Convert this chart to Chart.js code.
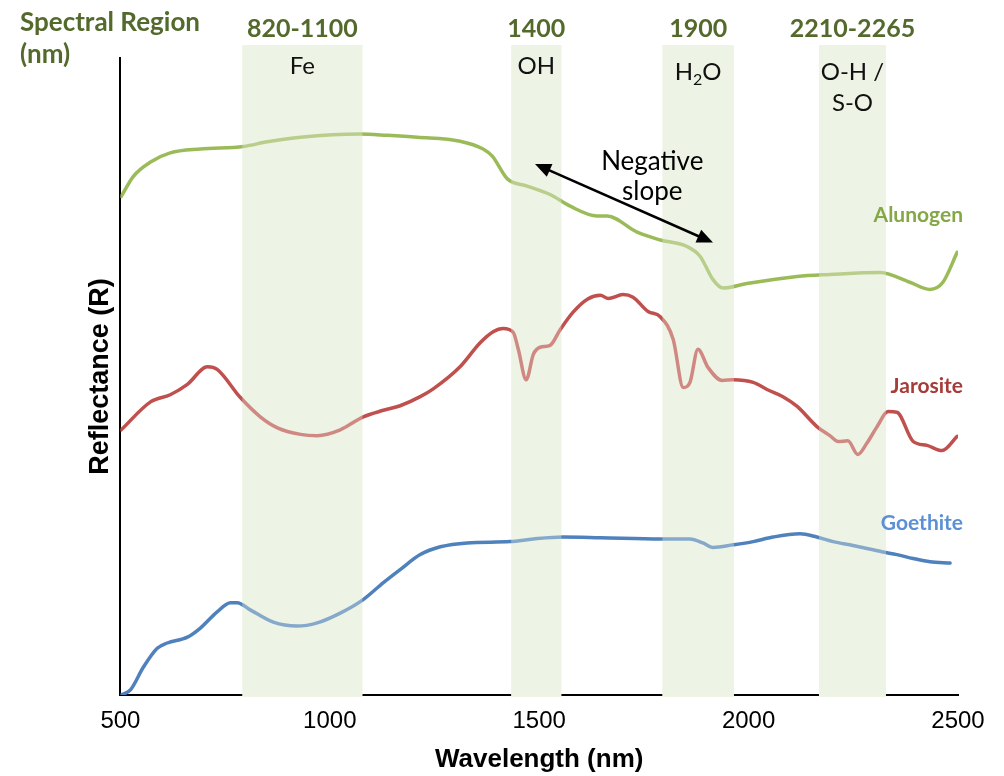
<!DOCTYPE html>
<html>
<head>
<meta charset="utf-8">
<script src="https://cdn.jsdelivr.net/npm/chart.js@4.4.1/dist/chart.umd.min.js"></script>
<style>
  html, body { margin: 0; background: #ffffff; }
  #wrap { width: 1004px; height: 776px; }
</style>
</head>
<body>
<div id="wrap"><canvas id="chart" width="1004" height="776"></canvas></div>
<script>
'use strict';

// ── Data (wavelength in nm, relative reflectance) ─────────────
const ALUNOGEN_NM = [502, 531, 572, 619, 691, 794, 851, 930, 1073, 1137, 1209, 1311, 1366, 1388, 1424, 1471,
  1526, 1574, 1638, 1662, 1734, 1789, 1853, 1884, 1915, 1939, 1996, 2116, 2194, 2314, 2385, 2433, 2464, 2498];
const ALUNOGEN_R  = [0.767, 0.798, 0.820, 0.834, 0.840, 0.844, 0.851, 0.858, 0.863, 0.861, 0.858, 0.852, 0.840,
  0.829, 0.794, 0.783, 0.770, 0.752, 0.737, 0.737, 0.712, 0.700, 0.690, 0.675, 0.639, 0.626, 0.633, 0.644,
  0.647, 0.650, 0.635, 0.624, 0.635, 0.681];

const JAROSITE_NM = [502, 572, 619, 660, 708, 731, 786, 834, 875, 930, 970, 1025, 1080, 1128, 1168, 1216, 1247,
  1311, 1359, 1390, 1414, 1438, 1450, 1469, 1486, 1502, 1526, 1550, 1581, 1615, 1646, 1665, 1700, 1724, 1760,
  1789, 1820, 1844, 1860, 1879, 1903, 1937, 1963, 2011, 2044, 2082, 2116, 2163, 2194, 2214, 2237, 2261, 2283,
  2307, 2333, 2354, 2393, 2426, 2462, 2498];
const JAROSITE_R  = [0.408, 0.451, 0.462, 0.478, 0.505, 0.501, 0.458, 0.428, 0.411, 0.401, 0.399, 0.408, 0.428,
  0.438, 0.445, 0.459, 0.471, 0.505, 0.542, 0.559, 0.564, 0.558, 0.532, 0.485, 0.524, 0.535, 0.538, 0.562,
  0.589, 0.609, 0.615, 0.610, 0.616, 0.612, 0.590, 0.582, 0.547, 0.473, 0.481, 0.532, 0.504, 0.484, 0.485,
  0.481, 0.470, 0.459, 0.444, 0.413, 0.399, 0.390, 0.391, 0.370, 0.388, 0.413, 0.436, 0.435, 0.390, 0.384,
  0.376, 0.398];

const GOETHITE_NM = [502, 524, 555, 588, 612, 660, 691, 731, 763, 779, 810, 865, 922, 970, 1025, 1078, 1128, 1168,
  1216, 1264, 1328, 1431, 1486, 1557, 1646, 1789, 1860, 1891, 1915, 1963, 2011, 2058, 2123, 2163, 2202, 2249,
  2321, 2354, 2393, 2433, 2481];
const GOETHITE_R  = [0.000, 0.008, 0.043, 0.072, 0.080, 0.089, 0.103, 0.128, 0.142, 0.142, 0.131, 0.112, 0.106,
  0.111, 0.126, 0.146, 0.173, 0.193, 0.216, 0.228, 0.234, 0.236, 0.240, 0.243, 0.242, 0.240, 0.240, 0.234,
  0.227, 0.231, 0.236, 0.243, 0.248, 0.243, 0.236, 0.230, 0.220, 0.216, 0.210, 0.205, 0.203];

// Absorption bands
const BAND_FROM  = [791, 1433, 1794, 2168];
const BAND_TO    = [1078, 1553, 1965, 2328];
const BAND_RANGE = ['820-1100', '1400', '1900', '2210-2265'];
const BAND_NAME  = [['Fe'], ['OH'], ['H2O'], ['O-H /', 'S-O']];
const BAND_NAME_R = [0.968, 0.968, 0.958, 0.958];
const BAND_TOP   = 1.0;

// Series labels
const SERIES_NAME  = ['Alunogen', 'Jarosite', 'Goethite'];
const SERIES_LBL_R = [0.738, 0.475, 0.265];

// Negative-slope arrow (nm, R)
const ARROW_NM = [1490, 1915];
const ARROW_R  = [0.817, 0.696];

// ── Style ──────────────────────────────────────────────────────
const GREEN  = '#9BBB59';
const RED    = '#C0504D';
const BLUE   = '#4F81BD';
const OLIVE  = '#536A2C';
const LABEL_COLORS = ['#84A847', '#A63C39', '#5B90D6'];
const BAND_FILL    = '#EFF4E5';
const BAND_TINT    = 'rgba(239,244,229,0.35)';
const SANS  = "'Liberation Sans', Arial, sans-serif";
const LABEL = "Lato, 'Open Sans', sans-serif";

function points(xs, ys) {
  return xs.map((x, i) => ({ x, y: ys[i] }));
}

function lineDataset(label, xs, ys, color) {
  return {
    label,
    data:             points(xs, ys),
    borderColor:      color,
    backgroundColor:  color,
    borderWidth:      3.5,
    fill:             false,
    cubicInterpolationMode: 'monotone',
    pointRadius:      0,
    borderCapStyle:   'round',
    borderJoinStyle:  'round',
  };
}

function bandRects(chart, fill, extraBottom) {
  const { ctx, chartArea, scales: { x, y } } = chart;
  ctx.save();
  ctx.fillStyle = fill;
  const top = y.getPixelForValue(BAND_TOP);
  BAND_FROM.forEach((from, i) => {
    const x0 = x.getPixelForValue(from);
    const x1 = x.getPixelForValue(BAND_TO[i]);
    ctx.fillRect(x0, top, x1 - x0, chartArea.bottom + extraBottom - top);
  });
  ctx.restore();
}

const bandsPlugin = {
  id: 'bands',
  beforeDatasetsDraw(chart) { bandRects(chart, BAND_FILL, 2); },
  afterDatasetsDraw(chart)  { bandRects(chart, BAND_TINT, 0); },
};

function arrowHead(ctx, x0, y0, x1, y1, len, half) {
  const a = Math.atan2(y1 - y0, x1 - x0);
  ctx.beginPath();
  ctx.moveTo(x1, y1);
  ctx.lineTo(x1 - len * Math.cos(a) + half * Math.sin(a), y1 - len * Math.sin(a) - half * Math.cos(a));
  ctx.lineTo(x1 - len * Math.cos(a) - half * Math.sin(a), y1 - len * Math.sin(a) + half * Math.cos(a));
  ctx.closePath();
  ctx.fill();
}

const notesPlugin = {
  id: 'notes',
  afterDraw(chart) {
    const { ctx, chartArea, scales: { x, y } } = chart;
    ctx.save();
    ctx.textBaseline = 'middle';

    // header
    ctx.fillStyle = OLIVE;
    ctx.font = `bold 26px ${LABEL}`;
    ctx.textAlign = 'left';
    ctx.fillText('Spectral Region', 20, 23);
    ctx.fillText('(nm)', 20, 55);

    BAND_FROM.forEach((from, i) => {
      const cx = (x.getPixelForValue(from) + x.getPixelForValue(BAND_TO[i])) / 2;
      ctx.fillStyle = OLIVE;
      ctx.font = `bold 25px ${LABEL}`;
      ctx.textAlign = 'center';
      ctx.fillText(BAND_RANGE[i], cx, 29);

      ctx.fillStyle = '#111111';
      ctx.font = `24px ${LABEL}`;
      BAND_NAME[i].forEach((txt, k) => {
        const yy = y.getPixelForValue(BAND_NAME_R[i]) + k * 31;
        if (txt === 'H2O') {
          const wH = ctx.measureText('H').width;
          ctx.font = `16px ${LABEL}`;
          const w2 = ctx.measureText('2').width;
          ctx.font = `24px ${LABEL}`;
          const wO = ctx.measureText('O').width;
          const sx = cx - (wH + w2 + wO) / 2;
          ctx.textAlign = 'left';
          ctx.fillText('H', sx, yy);
          ctx.font = `16px ${LABEL}`;
          ctx.fillText('2', sx + wH, yy + 8);
          ctx.font = `24px ${LABEL}`;
          ctx.fillText('O', sx + wH + w2, yy);
          ctx.textAlign = 'center';
        } else {
          ctx.fillText(txt, cx, yy);
        }
      });
    });

    // series labels
    ctx.font = `bold 21px ${LABEL}`;
    ctx.textAlign = 'right';
    SERIES_NAME.forEach((name, i) => {
      ctx.fillStyle = LABEL_COLORS[i];
      ctx.fillText(name, chartArea.right + 5, y.getPixelForValue(SERIES_LBL_R[i]));
    });

    // negative slope annotation
    const ax0 = x.getPixelForValue(ARROW_NM[0]), ay0 = y.getPixelForValue(ARROW_R[0]);
    const ax1 = x.getPixelForValue(ARROW_NM[1]), ay1 = y.getPixelForValue(ARROW_R[1]);
    ctx.strokeStyle = '#000000';
    ctx.fillStyle = '#000000';
    ctx.lineWidth = 2.5;
    const dx = ax1 - ax0, dy = ay1 - ay0, d = Math.hypot(dx, dy);
    ctx.beginPath();
    ctx.moveTo(ax0 + dx / d * 12, ay0 + dy / d * 12);
    ctx.lineTo(ax1 - dx / d * 12, ay1 - dy / d * 12);
    ctx.stroke();
    arrowHead(ctx, ax1, ay1, ax0, ay0, 16, 7);
    arrowHead(ctx, ax0, ay0, ax1, ay1, 16, 7);

    ctx.font = `26px ${LABEL}`;
    ctx.textAlign = 'center';
    const tx = x.getPixelForValue(1770);
    ctx.fillText('Negative', tx, y.getPixelForValue(0.821));
    ctx.fillText('slope', tx, y.getPixelForValue(0.775));

    ctx.restore();
  },
};

// ── Chart ─────────────────────────────────────────────────────
Chart.defaults.font.family = SANS;
Chart.defaults.color = '#000000';
Chart.defaults.animation = false;

new Chart(document.getElementById('chart').getContext('2d'), {
  type: 'line',
  data: {
    datasets: [
      lineDataset('Alunogen', ALUNOGEN_NM, ALUNOGEN_R, GREEN),
      lineDataset('Jarosite', JAROSITE_NM, JAROSITE_R, RED),
      lineDataset('Goethite', GOETHITE_NM, GOETHITE_R, BLUE),
    ],
  },
  options: {
    responsive: false,
    layout: { padding: { top: 58, right: 46, left: 84, bottom: 3 } },
    plugins: { legend: { display: false }, tooltip: { enabled: false } },
    scales: {
      x: {
        type: 'linear',
        min: 500,
        max: 2500,
        grid: { display: false, drawTicks: false },
        border: { display: true, color: '#000000', width: 2 },
        ticks: {
          stepSize: 500,
          padding: 14,
          color: '#000000',
          font: { size: 24, lineHeight: 1.0 },
          callback: v => String(v),
        },
        title: {
          display: true,
          text: 'Wavelength (nm)',
          color: '#000000',
          font: { size: 26, weight: 'bold', lineHeight: 1.0 },
          padding: { top: 0, bottom: 0 },
        },
      },
      y: {
        min: 0,
        max: 0.98,
        grid: { display: false, drawTicks: false },
        border: { display: true, color: '#000000', width: 2 },
        ticks: { display: false },
        title: {
          display: true,
          text: 'Reflectance (R)',
          color: '#000000',
          font: { size: 27, weight: 'bold' },
          padding: { top: 0, bottom: 4 },
        },
      },
    },
  },
  plugins: [bandsPlugin, notesPlugin],
});
</script>
</body>
</html>
